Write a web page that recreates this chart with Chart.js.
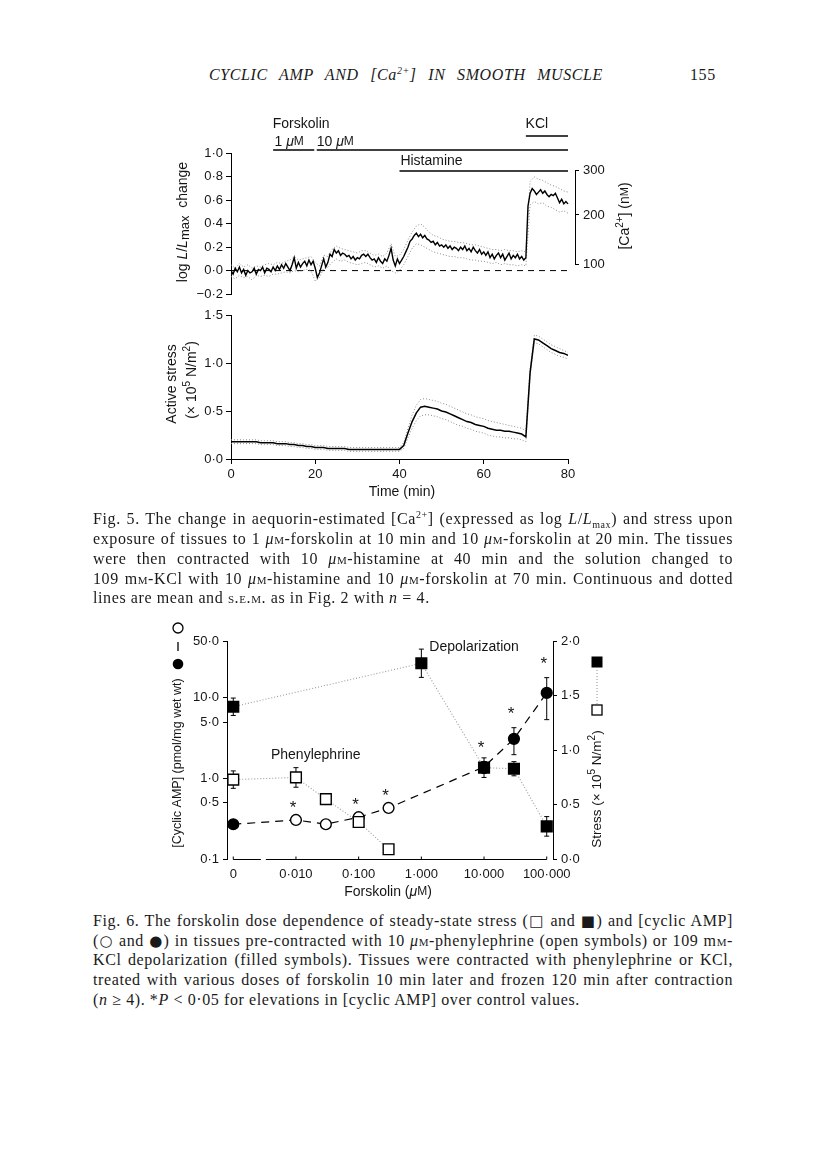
<!DOCTYPE html>
<html>
<head>
<meta charset="utf-8">
<script src="https://cdn.jsdelivr.net/npm/chart.js@4.4.1/dist/chart.umd.min.js"></script>
<style>
  body { margin: 0; background: #fff; width: 816px; height: 1167px; position: relative; overflow: hidden;
         font-family: 'Liberation Serif', 'DejaVu Serif', serif; color: #1a1a1a; }
  canvas { position: absolute; left: 0; }
  .hd { position: absolute; top: 66px; font-size: 16px; font-style: italic; letter-spacing: 0.6px; word-spacing: 7px; white-space: nowrap; }
  .ln { position: absolute; left: 93px; width: 640px; height: 20px; line-height: 20px; font-size: 16px; letter-spacing: 0.6px;
        white-space: nowrap; text-align: justify; text-align-last: justify; }
  .ln.last { text-align-last: left; }
  .sc { font-variant: small-caps; }
  .sym { font-family: 'DejaVu Sans', sans-serif; font-size: 15px; }
  sup, sub { font-size: 10px; line-height: 0; }
</style>
</head>
<body>

<div class="hd" style="right:213px">CYCLIC AMP AND [Ca<sup>2+</sup>] IN SMOOTH MUSCLE</div>
<div class="hd" style="left:690px;font-style:normal">155</div>

<canvas id="fig5top" width="816" height="210" style="top:100px"></canvas>
<canvas id="fig5bottom" width="816" height="210" style="top:300px"></canvas>

<div class="ln" style="top:509px">Fig. 5. The change in aequorin-estimated [Ca<sup>2+</sup>] (expressed as log <i>L</i>/<i>L</i><sub>max</sub>) and stress upon</div>
<div class="ln" style="top:529px">exposure of tissues to 1 <i>μ</i><span class="sc">m</span>-forskolin at 10 min and 10 <i>μ</i><span class="sc">m</span>-forskolin at 20 min. The tissues</div>
<div class="ln" style="top:549px">were then contracted with 10 <i>μ</i><span class="sc">m</span>-histamine at 40 min and the solution changed to</div>
<div class="ln" style="top:569px">109 m<span class="sc">m</span>-KCl with 10 <i>μ</i><span class="sc">m</span>-histamine and 10 <i>μ</i><span class="sc">m</span>-forskolin at 70 min. Continuous and dotted</div>
<div class="ln last" style="top:588px">lines are mean and <span class="sc">s.e.m.</span> as in Fig. 2 with <i>n</i> = 4.</div>

<canvas id="fig6" width="816" height="300" style="top:600px"></canvas>

<div class="ln" style="top:911px">Fig. 6. The forskolin dose dependence of steady-state stress (<span class="sym">□</span> and <span class="sym">■</span>) and [cyclic AMP]</div>
<div class="ln" style="top:931px">(<span class="sym">○</span> and <span class="sym">●</span>) in tissues pre-contracted with 10 <i>μ</i><span class="sc">m</span>-phenylephrine (open symbols) or 109 m<span class="sc">m</span>-</div>
<div class="ln" style="top:950px">KCl depolarization (filled symbols). Tissues were contracted with phenylephrine or KCl,</div>
<div class="ln" style="top:970px">treated with various doses of forskolin 10 min later and frozen 120 min after contraction</div>
<div class="ln last" style="top:990px">(<i>n</i> ≥ 4). *<i>P</i> &lt; 0·05 for elevations in [cyclic AMP] over control values.</div>

<script>
// ---- Fig. 5 top: log L/Lmax change, mean every 0.5 min (0..80 min)
const lumMean = [
  0.00, -0.03, 0.02, -0.01, 0.03, -0.02, 0.01, -0.04, 0.00, -0.02, -0.01, 0.02, -0.03, 0.01, 0.00, 0.03, -0.02, 0.02, 0.01, -0.01, 0.03,
  0.00, 0.04, 0.01, 0.05, 0.02, 0.06, 0.03, 0.00, 0.05, 0.11, 0.02, 0.07, 0.03, 0.06, 0.08, 0.04, 0.09, 0.05, 0.08,
  0.02, -0.06, -0.02, 0.04, 0.10, 0.03, 0.07, 0.14, 0.12, 0.18, 0.15, 0.17, 0.13, 0.15, 0.14, 0.12, 0.13, 0.10, 0.12, 0.09, 0.11,
  0.10, 0.13, 0.14, 0.12, 0.14, 0.11, 0.09, 0.10, 0.07, 0.11, 0.08, 0.06, 0.10, 0.08, 0.13, 0.19, 0.09, 0.04, 0.10, 0.06,
  0.09, 0.12, 0.16, 0.20, 0.25, 0.27, 0.30, 0.32, 0.29, 0.31, 0.28, 0.30, 0.27, 0.26, 0.24, 0.25, 0.22, 0.24, 0.21, 0.22,
  0.20, 0.22, 0.19, 0.21, 0.18, 0.20, 0.19, 0.17, 0.20, 0.18, 0.21, 0.17, 0.19, 0.16, 0.20, 0.17, 0.15, 0.18, 0.14, 0.16,
  0.13, 0.16, 0.11, 0.14, 0.10, 0.13, 0.15, 0.11, 0.14, 0.09, 0.12, 0.15, 0.10, 0.13, 0.11, 0.14, 0.10, 0.12, 0.09, 0.11,
  0.55, 0.66, 0.70, 0.68, 0.65, 0.67, 0.69, 0.66, 0.68, 0.65, 0.63, 0.65, 0.64, 0.66, 0.62, 0.58, 0.61, 0.57, 0.59, 0.57,
];
// s.e.m. envelope, every 1 min
const lumUpper = [
  0.05, 0.02, 0.06, 0.03, 0.05, 0.02, 0.04, 0.03, 0.05, 0.06, 0.05,
  0.07, 0.06, 0.08, 0.09, 0.12, 0.09, 0.10, 0.11, 0.12, 0.07,
  0.04, 0.13, 0.12, 0.18, 0.21, 0.19, 0.18, 0.17, 0.16, 0.15,
  0.17, 0.17, 0.15, 0.13, 0.14, 0.12, 0.15, 0.23, 0.12, 0.13,
  0.18, 0.26, 0.33, 0.38, 0.40, 0.37, 0.33, 0.30, 0.29, 0.27,
  0.26, 0.25, 0.25, 0.24, 0.24, 0.23, 0.22, 0.22, 0.21, 0.20,
  0.19, 0.18, 0.18, 0.17, 0.18, 0.17, 0.17, 0.16, 0.17, 0.16,
  0.76, 0.80, 0.78, 0.77, 0.75, 0.73, 0.72, 0.70, 0.68, 0.67,
];
const lumLower = [
  -0.05, -0.07, -0.04, -0.06, -0.05, -0.08, -0.04, -0.05, -0.04, -0.05, -0.03,
  -0.03, -0.02, -0.01, -0.02, 0.00, -0.01, 0.00, 0.01, 0.00, -0.09,
  -0.06, 0.02, 0.03, 0.07, 0.10, 0.08, 0.09, 0.07, 0.06, 0.05,
  0.06, 0.07, 0.05, 0.03, 0.04, 0.02, 0.04, 0.00, -0.02, 0.00,
  0.05, 0.12, 0.19, 0.23, 0.22, 0.20, 0.18, 0.16, 0.15, 0.14,
  0.13, 0.12, 0.12, 0.11, 0.11, 0.10, 0.09, 0.09, 0.08, 0.08,
  0.07, 0.06, 0.07, 0.05, 0.06, 0.05, 0.05, 0.04, 0.05, 0.04,
  0.56, 0.59, 0.57, 0.58, 0.55, 0.54, 0.52, 0.50, 0.51, 0.49,
];
// right hand [Ca2+] (nM) scale: labels and where they sit on the log L/Lmax axis
const caNmTicks = [100, 200, 300];
const caNmAt = [0.05, 0.475, 0.856];
// treatment periods (min)
const forskolin1 = [10, 20];
const forskolin10 = [20, 80];
const histamine = [40, 80];
const kcl = [70, 80];

// ---- Fig. 5 bottom: active stress, every 1 min
const stressMean = [
  0.18, 0.18, 0.18, 0.18, 0.18, 0.18, 0.18, 0.17, 0.17, 0.17, 0.17,
  0.16, 0.16, 0.16, 0.15, 0.15, 0.14, 0.14, 0.13, 0.13, 0.12,
  0.12, 0.12, 0.11, 0.11, 0.11, 0.11, 0.11, 0.10, 0.10, 0.10,
  0.10, 0.10, 0.10, 0.10, 0.10, 0.10, 0.10, 0.10, 0.10, 0.10,
  0.14, 0.27, 0.39, 0.48, 0.54, 0.55, 0.54, 0.53, 0.52, 0.50,
  0.49, 0.47, 0.45, 0.43, 0.41, 0.39, 0.38, 0.36, 0.35, 0.34,
  0.32, 0.31, 0.30, 0.30, 0.29, 0.29, 0.28, 0.27, 0.26, 0.23,
  0.90, 1.25, 1.24, 1.21, 1.18, 1.15, 1.13, 1.11, 1.10, 1.08,
];
const stressUpper = [
  0.20, 0.20, 0.20, 0.20, 0.20, 0.20, 0.20, 0.19, 0.19, 0.19, 0.19,
  0.18, 0.18, 0.18, 0.17, 0.17, 0.16, 0.16, 0.15, 0.15, 0.14,
  0.14, 0.14, 0.13, 0.13, 0.13, 0.13, 0.13, 0.12, 0.12, 0.12,
  0.12, 0.12, 0.12, 0.12, 0.12, 0.12, 0.12, 0.12, 0.12, 0.12,
  0.17, 0.32, 0.46, 0.56, 0.62, 0.63, 0.62, 0.61, 0.60, 0.58,
  0.57, 0.55, 0.53, 0.51, 0.49, 0.47, 0.46, 0.44, 0.43, 0.42,
  0.40, 0.39, 0.38, 0.37, 0.36, 0.35, 0.34, 0.33, 0.32, 0.29,
  0.93, 1.29, 1.28, 1.25, 1.22, 1.19, 1.17, 1.15, 1.13, 1.11,
];
const stressLower = [
  0.16, 0.16, 0.16, 0.16, 0.16, 0.16, 0.16, 0.15, 0.15, 0.15, 0.15,
  0.14, 0.14, 0.14, 0.13, 0.13, 0.12, 0.12, 0.11, 0.11, 0.10,
  0.10, 0.10, 0.09, 0.09, 0.09, 0.09, 0.09, 0.08, 0.08, 0.08,
  0.08, 0.08, 0.08, 0.08, 0.08, 0.08, 0.08, 0.08, 0.08, 0.08,
  0.11, 0.22, 0.32, 0.40, 0.45, 0.46, 0.46, 0.45, 0.44, 0.42,
  0.41, 0.39, 0.37, 0.35, 0.34, 0.32, 0.31, 0.29, 0.28, 0.27,
  0.25, 0.24, 0.23, 0.23, 0.22, 0.22, 0.21, 0.21, 0.20, 0.18,
  0.87, 1.21, 1.20, 1.17, 1.14, 1.11, 1.09, 1.07, 1.06, 1.04,
];

// ---- Fig. 6: forskolin dose (uM) dependence
const doseTicks = [0, 0.01, 0.1, 1, 10, 100];
const campTicks = [0.1, 0.5, 1, 5, 10, 50];
// phenylephrine (open symbols)
const pheStressDose = [0, 0.01, 0.03, 0.1, 0.3];
const pheStress = [0.73, 0.75, 0.55, 0.34, 0.09];
const pheStressSem = [0.08, 0.09, 0.02, 0.02, 0.02];
const pheCampDose = [0.01, 0.03, 0.1, 0.3];
const pheCamp = [0.305, 0.27, 0.33, 0.43];
const pheCampStar = [true, false, true, true];
// KCl depolarization (filled symbols)
const kclStressDose = [0, 1, 10, 30, 100];
const kclStress = [1.40, 1.80, 0.84, 0.83, 0.30];
const kclStressSem = [0.08, 0.13, 0.09, 0.065, 0.09];
const kclCampDose = [0, 10, 30, 100];
const kclCamp = [0.27, 1.39, 3.1, 11.5];
const kclCampLo = [0.25, 1.15, 1.97, 5.36];
const kclCampHi = [0.29, 1.62, 4.26, 17.8];
const kclCampStar = [false, true, true, true];

const sans = "'Liberation Sans', Arial, sans-serif";
Chart.defaults.font.family = sans;
Chart.defaults.font.size = 13;
Chart.defaults.color = '#151515';

const dotNum = (v, d) => (Math.abs(v) < 1e-9 ? 0 : v).toFixed(d).replace('-', '\u2212').replace('.', '\u00b7');
const series = (arr, step) => arr.map((v, i) => ({ x: i * step, y: v }));

// text made of pieces (italic, sub/superscripts), optionally rotated
function richText(ctx, x, y, parts, angle) {
  ctx.save();
  ctx.translate(x, y);
  ctx.rotate(angle || 0);
  ctx.textBaseline = 'middle';
  ctx.textAlign = 'left';
  ctx.fillStyle = '#151515';
  let total = 0;
  const w = parts.map(p => { ctx.font = p[1]; const m = ctx.measureText(p[0]).width; total += m; return m; });
  let cx = -total / 2;
  parts.forEach((p, i) => { ctx.font = p[1]; ctx.fillText(p[0], cx, p[2] || 0); cx += w[i]; });
  ctx.restore();
}
const F = (size, style) => (style ? style + ' ' : '') + size + 'px ' + sans;
// canvases sit at these page offsets; titles below are placed in page coordinates
const pageTop = { fig5top: 100, fig5bottom: 300, fig6: 600 };

function axisBase(extra) {
  return Object.assign({
    grid: { drawOnChartArea: false, tickLength: 5, color: '#000', lineWidth: 1 },
    border: { color: '#000', width: 1 },
    ticks: { padding: 3 },
  }, extra);
}

// ---------- Fig. 5 top ----------
const fig5TopDeco = {
  id: 'fig5TopDeco',
  afterDraw(chart) {
    const { ctx, chartArea: a, scales } = chart;
    const xs = scales.x;
    ctx.save();
    ctx.strokeStyle = '#000';
    ctx.lineWidth = 1.3;
    const bar = (p, y, g0, g1) => {
      ctx.beginPath();
      ctx.moveTo(xs.getPixelForValue(p[0]) + (g0 || 0), y);
      ctx.lineTo(xs.getPixelForValue(p[1]) - (g1 || 0), y);
      ctx.stroke();
    };
    bar(forskolin1, a.top - 3.5, 0, 1);
    bar(forskolin10, a.top - 3.5, 1.5, 0);
    bar(kcl, a.top - 17.5);
    bar(histamine, a.top + 17.5);

    richText(ctx, xs.getPixelForValue(forskolin1[0]) + 28, a.top - 29.5, [['Forskolin', F(14)]]);
    richText(ctx, xs.getPixelForValue(forskolin1[0]) + 16, a.top - 11.5, [['1 ', F(14)], ['\u03bc', F(14, 'italic')], ['M', F(12)]]);
    richText(ctx, xs.getPixelForValue(forskolin10[0]) + 20, a.top - 11.5, [['10 ', F(14)], ['\u03bc', F(14, 'italic')], ['M', F(12)]]);
    richText(ctx, xs.getPixelForValue(histamine[0]) + 32, a.top + 8, [['Histamine', F(14)]]);
    richText(ctx, xs.getPixelForValue(kcl[0]) + 11, a.top - 29.5, [['KCl', F(14)]]);

    // [Ca2+] bracket
    const y2 = scales.y2;
    ctx.lineWidth = 1;
    ctx.beginPath();
    ctx.moveTo(y2.left + 0.5, y2.getPixelForValue(caNmAt[2]));
    ctx.lineTo(y2.left + 0.5, y2.getPixelForValue(caNmAt[0]));
    ctx.stroke();

    ctx.translate(0, -pageTop.fig5top);
    richText(ctx, 183, 222, [['log ', F(14)], ['L', F(14, 'italic')], ['/', F(14)], ['L', F(14, 'italic')],
      ['max', F(13), 2], ['  change', F(14)]], -Math.PI / 2);
    richText(ctx, 625, 216, [['[Ca', F(14)], ['2+', F(10), -5], ['] (n', F(14)], ['M', F(11)], [')', F(14)]], -Math.PI / 2);
    ctx.restore();
  }
};

new Chart(document.getElementById('fig5top'), {
  type: 'line',
  data: {
    datasets: [
      { data: series(lumMean, 0.5), borderColor: '#000', borderWidth: 1.4, pointRadius: 0, tension: 0, order: 0 },
      { data: series(lumUpper, 1), borderColor: '#8c8c8c', borderWidth: 1, borderDash: [1, 2], pointRadius: 0, tension: 0, order: 1 },
      { data: series(lumLower, 1), borderColor: '#8c8c8c', borderWidth: 1, borderDash: [1, 2], pointRadius: 0, tension: 0, order: 1 },
      { data: [{ x: 0, y: 0 }, { x: 80, y: 0 }], borderColor: '#000', borderWidth: 1, borderDash: [6, 5], pointRadius: 0, order: 2 },
    ]
  },
  options: {
    responsive: false, animation: false, events: [],
    layout: { padding: { top: 53.5, bottom: 16, left: 0, right: 0 } },
    plugins: { legend: { display: false }, tooltip: { enabled: false } },
    scales: {
      x: { type: 'linear', display: false, min: 0, max: 81.66 },
      y: axisBase({
        type: 'linear', position: 'left', min: -0.2, max: 1.0,
        afterFit: s => { s.width = 231; },
        ticks: { stepSize: 0.2, padding: 3, callback: v => dotNum(v, 1) },
      }),
      y2: {
        type: 'linear', position: 'right', min: -0.2, max: 1.0,
        afterFit: s => { s.width = 816 - 575; },
        afterBuildTicks: s => { s.ticks = caNmAt.map(v => ({ value: v })); },
        ticks: { padding: 4, callback: (v, i) => String(caNmTicks[i]) },
        grid: { drawOnChartArea: false, tickLength: 4, color: '#000' },
        border: { display: false },
      },
    }
  },
  plugins: [fig5TopDeco]
});

// ---------- Fig. 5 bottom ----------
const fig5BottomDeco = {
  id: 'fig5BottomDeco',
  afterDraw(chart) {
    const { ctx } = chart;
    ctx.save();
    ctx.translate(0, -pageTop.fig5bottom);
    richText(ctx, 172, 384, [['Active stress', F(14)]], -Math.PI / 2);
    richText(ctx, 192, 380, [['(\u00d7 10', F(14)], ['5', F(10), -5], [' N/m', F(14)], ['2', F(10), -5], [')', F(14)]], -Math.PI / 2);
    richText(ctx, 402, 492, [['Time (min)', F(14)]]);
    ctx.restore();
  }
};

new Chart(document.getElementById('fig5bottom'), {
  type: 'line',
  data: {
    datasets: [
      { data: series(stressMean, 1), borderColor: '#000', borderWidth: 1.5, pointRadius: 0, tension: 0, order: 0 },
      { data: series(stressUpper, 1), borderColor: '#8c8c8c', borderWidth: 1, borderDash: [1, 2], pointRadius: 0, tension: 0, order: 1 },
      { data: series(stressLower, 1), borderColor: '#8c8c8c', borderWidth: 1, borderDash: [1, 2], pointRadius: 0, tension: 0, order: 1 },
    ]
  },
  options: {
    responsive: false, animation: false, events: [],
    layout: { padding: { top: 15, bottom: 0, left: 0, right: 248 } },
    plugins: { legend: { display: false }, tooltip: { enabled: false } },
    scales: {
      x: axisBase({
        type: 'linear', min: 0, max: 80,
        afterFit: s => { s.height = 51; },
        ticks: { stepSize: 20, padding: 3 },
      }),
      y: axisBase({
        type: 'linear', min: 0, max: 1.5,
        afterFit: s => { s.width = 231; },
        ticks: { stepSize: 0.5, padding: 3, callback: v => dotNum(v, 1) },
      }),
    }
  },
  plugins: [fig5BottomDeco]
});

// ---------- Fig. 6 ----------
const zeroDose = 0.001; // where the "0" dose sits on the broken log axis
const doseAxis = d => (d === 0 ? zeroDose : d);
const pts = (doses, vals) => doses.map((d, i) => ({ x: doseAxis(d), y: vals[i] }));

// dashed cyclic AMP line: KCl control, phenylephrine doses, then KCl forskolin doses
const campLine = [pts(kclCampDose, kclCamp)[0]]
  .concat(pts(pheCampDose, pheCamp))
  .concat(pts(kclCampDose, kclCamp).slice(1));

const fig6Deco = {
  id: 'fig6Deco',
  beforeDatasetsDraw(chart) {
    const { ctx, scales } = chart;
    const xs = scales.x;
    ctx.save();
    ctx.strokeStyle = '#000';
    ctx.lineWidth = 1;
    const err = (d, lo, hi, ys) => {
      const x = xs.getPixelForValue(doseAxis(d));
      const y1 = ys.getPixelForValue(lo), y2 = ys.getPixelForValue(hi);
      ctx.beginPath();
      ctx.moveTo(x, y1); ctx.lineTo(x, y2);
      ctx.moveTo(x - 2.5, y1); ctx.lineTo(x + 2.5, y1);
      ctx.moveTo(x - 2.5, y2); ctx.lineTo(x + 2.5, y2);
      ctx.stroke();
    };
    pheStressDose.forEach((d, i) => err(d, pheStress[i] - pheStressSem[i], pheStress[i] + pheStressSem[i], scales.y2));
    kclStressDose.forEach((d, i) => err(d, kclStress[i] - kclStressSem[i], kclStress[i] + kclStressSem[i], scales.y2));
    kclCampDose.forEach((d, i) => err(d, kclCampLo[i], kclCampHi[i], scales.y));

    // broken x axis with short inward ticks
    const y0 = chart.chartArea.bottom + 0.5;
    const brk = xs.getPixelForValue(Math.pow(10, -2.52));
    ctx.beginPath();
    ctx.moveTo(xs.getPixelForValue(zeroDose), y0); ctx.lineTo(brk - 2.5, y0);
    ctx.moveTo(brk + 2.5, y0); ctx.lineTo(xs.getPixelForValue(100), y0);
    doseTicks.forEach(d => {
      const x = xs.getPixelForValue(doseAxis(d));
      ctx.moveTo(x, y0); ctx.lineTo(x, y0 - 3);
    });
    ctx.stroke();
    ctx.restore();
  },
  afterDatasetsDraw(chart) {
    const { ctx, scales, chartArea: a } = chart;
    const xs = scales.x, ys = scales.y;
    ctx.save();
    ctx.fillStyle = '#151515';
    ctx.font = F(17);
    ctx.textAlign = 'center';
    ctx.textBaseline = 'middle';
    const star = (d, top) => ctx.fillText('*', xs.getPixelForValue(doseAxis(d)) - 3, top - 6);
    pheCampDose.forEach((d, i) => { if (pheCampStar[i]) star(d, ys.getPixelForValue(pheCamp[i]) - 6); });
    kclCampDose.forEach((d, i) => { if (kclCampStar[i]) star(d, ys.getPixelForValue(kclCampHi[i]) - 7); });

    ctx.textAlign = 'left';
    ctx.font = F(14);
    ctx.fillText('Depolarization', xs.getPixelForValue(1) + 8, a.top + 5.5);
    ctx.fillText('Phenylephrine', xs.getPixelForValue(0.01) - 25, scales.y2.getPixelForValue(pheStress[1]) - 22);
    ctx.restore();

    // axis titles (page coordinates)
    ctx.save();
    ctx.translate(0, -pageTop.fig6);
    ctx.strokeStyle = '#000';
    ctx.fillStyle = '#000';
    richText(ctx, 178, 763, [['[Cyclic AMP] (pmol/mg wet wt)', F(12.5)]], -Math.PI / 2);
    ctx.lineWidth = 1.3;
    ctx.beginPath(); ctx.arc(178, 664, 5.3, 0, Math.PI * 2); ctx.fill();
    ctx.beginPath(); ctx.moveTo(178, 642); ctx.lineTo(178, 651); ctx.stroke();
    ctx.beginPath(); ctx.arc(178, 628, 5, 0, Math.PI * 2); ctx.stroke();

    richText(ctx, 597, 789, [['Stress (\u00d7 10', F(13.5)], ['5', F(10), -5], [' N/m', F(13.5)], ['2', F(10), -5], [')', F(13.5)]], -Math.PI / 2);
    ctx.lineWidth = 1.3;
    ctx.strokeRect(592, 705, 10, 10);
    ctx.fillRect(591.5, 656.5, 11, 11);
    ctx.lineWidth = 1;
    ctx.strokeStyle = '#8c8c8c';
    ctx.setLineDash([1, 2]);
    ctx.beginPath(); ctx.moveTo(597, 704); ctx.lineTo(597, 668); ctx.stroke();
    ctx.setLineDash([]);
    richText(ctx, 388, 892, [['Forskolin (', F(14)], ['\u03bc', F(14, 'italic')], ['M', F(12)], [')', F(14)]]);
    ctx.restore();
  }
};

const markerBase = { showLine: false, borderColor: '#000', borderWidth: 1.4, order: 0 };
new Chart(document.getElementById('fig6'), {
  type: 'line',
  data: {
    datasets: [
      { data: campLine, yAxisID: 'y', borderColor: '#000', borderWidth: 1.2, borderDash: [8, 6], pointRadius: 0, tension: 0, order: 2 },
      { data: pts(pheStressDose, pheStress), yAxisID: 'y2', borderColor: '#9a9a9a', borderWidth: 1.1, borderDash: [1, 2], pointRadius: 0, tension: 0, order: 2 },
      { data: pts(kclStressDose, kclStress), yAxisID: 'y2', borderColor: '#9a9a9a', borderWidth: 1.1, borderDash: [1, 2], pointRadius: 0, tension: 0, order: 2 },
      Object.assign({ data: pts(pheStressDose, pheStress), yAxisID: 'y2', pointStyle: 'rect', pointRadius: 7.6, backgroundColor: '#fff' }, markerBase),
      Object.assign({ data: pts(kclStressDose, kclStress), yAxisID: 'y2', pointStyle: 'rect', pointRadius: 7.6, backgroundColor: '#000' }, markerBase),
      Object.assign({ data: pts(pheCampDose, pheCamp), yAxisID: 'y', pointStyle: 'circle', pointRadius: 5.4, backgroundColor: '#fff' }, markerBase),
      Object.assign({ data: pts(kclCampDose, kclCamp), yAxisID: 'y', pointStyle: 'circle', pointRadius: 5.4, backgroundColor: '#000' }, markerBase),
    ]
  },
  options: {
    responsive: false, animation: false, events: [],
    layout: { padding: { top: 41.5, bottom: 0, left: 0, right: 0 } },
    plugins: { legend: { display: false }, tooltip: { enabled: false } },
    scales: {
      x: {
        type: 'logarithmic', min: Math.pow(10, -3.1), max: Math.pow(10, 2.1),
        afterFit: s => { s.height = 41; },
        afterBuildTicks: s => { s.ticks = doseTicks.map(d => ({ value: doseAxis(d) })); },
        ticks: { padding: 0, autoSkip: false, maxRotation: 0, callback: (v, i) => (doseTicks[i] === 0 ? '0' : dotNum(doseTicks[i], 3)) },
        grid: { display: false },
        border: { display: false },
      },
      y: axisBase({
        type: 'logarithmic', position: 'left', min: 0.1, max: 50,
        afterFit: s => { s.width = 227; },
        afterBuildTicks: s => { s.ticks = campTicks.map(v => ({ value: v })); },
        ticks: { padding: 4, callback: (v, i) => dotNum(campTicks[i], 1) },
        grid: { drawOnChartArea: false, tickLength: 4, color: '#000' },
      }),
      y2: axisBase({
        type: 'linear', position: 'right', min: 0, max: 2,
        afterFit: s => { s.width = 816 - 553; },
        ticks: { stepSize: 0.5, padding: 4, callback: v => dotNum(v, 1) },
        grid: { drawOnChartArea: false, tickLength: 4, color: '#000' },
      }),
    }
  },
  plugins: [fig6Deco]
});
</script>
</body>
</html>
